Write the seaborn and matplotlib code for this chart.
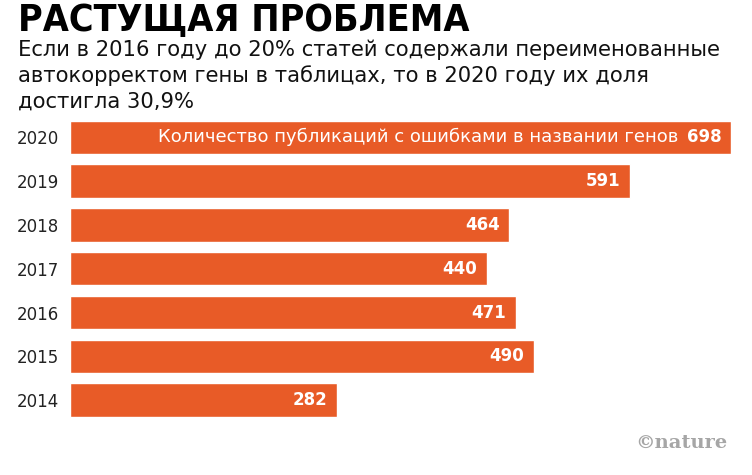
import matplotlib
matplotlib.use("Agg")
import matplotlib.pyplot as plt
import seaborn as sns
import pandas as pd

# data
years = ["2020", "2019", "2018", "2017", "2016", "2015", "2014"]
counts = [698, 591, 464, 440, 471, 490, 282]
note = "Количество публикаций с ошибками в названии генов"

title = "РАСТУЩАЯ ПРОБЛЕМА"
subtitle = ("Если в 2016 году до 20% статей содержали переименованные\n"
            "автокорректом гены в таблицах, то в 2020 году их доля\n"
            "достигла 30,9%")

bar_color = "#E85B27"

sns.set_theme(style="white")
plt.rcParams['font.family'] = ['DejaVu Sans']

df = pd.DataFrame({"year": years, "count": counts})

fig = plt.figure(figsize=(7.52, 4.75), dpi=100)
ax = fig.add_axes([70 / 752, 53 / 475, 661 / 752, 306.6 / 475])

sns.barplot(data=df, y="year", x="count", orient="h", color=bar_color,
            saturation=1, width=0.76, ax=ax)
ax.set_xlim(0, max(counts))
ax.set_xlabel("")
ax.set_ylabel("")
ax.set_xticks([])
sns.despine(ax=ax, left=True, bottom=True)
ax.tick_params(axis="y", length=0, pad=8)
for lab in ax.get_yticklabels():
    lab.set_fontfamily("DejaVu Sans")
    lab.set_fontsize(12)
    lab.set_color("#222222")

# value labels inside the bars
for i, v in enumerate(counts):
    ax.annotate(str(v), xy=(v, i), xytext=(-7, 0), textcoords="offset points",
                ha="right", va="center", color="white", fontsize=12,
                fontweight="bold", fontfamily="DejaVu Sans")

# note inside the longest bar
ax.annotate(note, xy=(counts[0], 0), xytext=(-38, 0), textcoords="offset points",
            ha="right", va="center", color="white", fontsize=13,
            fontfamily="DejaVu Sans")

fig.text(18 / 752, 1 - 21 / 475, title, fontsize=27, fontweight="bold",
         fontstretch="condensed", family="Liberation Sans Narrow",
         ha="left", va="center", color="black")
fig.text(18 / 752, 1 - 40 / 475, subtitle, fontsize=15.2, ha="left", va="top",
         color="#111111", linespacing=1.3, family="DejaVu Sans")

fig.text(727 / 752, 1 - 443 / 475, "©nature", fontsize=14, fontweight="bold",
         family="DejaVu Serif", color="#a6a6a6", ha="right", va="center")

fig.savefig("out.png", dpi=100, facecolor="white")
